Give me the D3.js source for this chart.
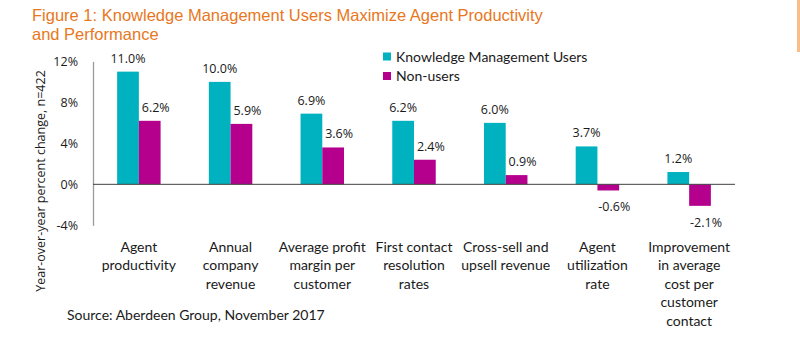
<!DOCTYPE html>
<html>
<head>
<meta charset="utf-8">
<script src="https://cdn.jsdelivr.net/npm/d3@7"></script>
<style>
  body { margin: 0; background: #fff; }
  svg { display: block; }
</style>
</head>
<body>
<svg id="chart"></svg>
<script>
// data
const categories = [
    ['Agent', 'productivity'],
    ['Annual', 'company', 'revenue'],
    ['Average profit', 'margin per', 'customer'],
    ['First contact', 'resolution', 'rates'],
    ['Cross-sell and', 'upsell revenue'],
    ['Agent', 'utilization', 'rate'],
    ['Improvement', 'in average', 'cost per', 'customer', 'contact']
];
const seriesNames = ['Knowledge Management Users', 'Non-users'];
const kmUsers = [11.0, 10.0, 6.9, 6.2, 6.0, 3.7, 1.2];
const nonUsers = [6.2, 5.9, 3.6, 2.4, 0.9, -0.6, -2.1];
const yTicks = [12, 8, 4, 0, -4];

const colours = { km: '#00b2bf', non: '#b4008c', title: '#e87722', text: '#1a1a1a' };

const width = 800, height = 354;
const svg = d3.select('#chart').attr('width', width).attr('height', height);

const rows = categories.map((c, i) => ({ idx: i, label: c, values: [kmUsers[i], nonUsers[i]] }));

const x0 = d3.scaleBand()
    .domain(d3.range(categories.length))
    .range([93, 735]);

const x1 = d3.scaleBand()
    .domain([0, 1])
    .range([0, x0.bandwidth()])
    .paddingOuter(1.11);

const y = d3.scaleLinear()
    .domain([-4, 12])
    .range([225.3, 61.4]);

// title
svg.append('text')
    .attr('x', 32).attr('y', 21)
    .attr('fill', colours.title)
    .style('font-family', 'Liberation Sans, Arial, sans-serif')
    .style('font-size', '16.5px')
    .selectAll('tspan')
    .data(['Figure 1: Knowledge Management Users Maximize Agent Productivity', 'and Performance'])
    .join('tspan')
    .attr('x', 32)
    .attr('dy', (d, i) => i === 0 ? 0 : 19)
    .text(d => d);

// orange strip at the right edge
svg.append('rect')
    .attr('x', 797).attr('y', 0)
    .attr('width', 3).attr('height', 52)
    .attr('fill', '#f8bd8a');

// y axis
const yAxis = d3.axisLeft(y).tickValues(yTicks).tickSize(0).tickPadding(15)
    .tickFormat(d => d + '%');
const yAxisG = svg.append('g')
    .attr('transform', 'translate(93,0)')
    .call(yAxis);
yAxisG.select('.domain').attr('stroke', '#9a9a9a').attr('stroke-width', 1.3);
yAxisG.selectAll('.tick text')
    .attr('fill', colours.text)
    .style('font-family', 'Open Sans, sans-serif')
    .style('font-size', '12.5px');

svg.append('text')
    .attr('transform', 'translate(45,181) rotate(-90)')
    .attr('text-anchor', 'middle')
    .attr('fill', colours.text)
    .style('font-family', 'Open Sans, sans-serif')
    .style('font-size', '12.5px')
    .text('Year-over-year percent change, n=422');

// bars
const groups = svg.append('g').selectAll('g')
    .data(rows)
    .join('g')
    .attr('transform', d => `translate(${x0(d.idx)},0)`);

groups.selectAll('rect')
    .data(d => d.values.map((v, k) => ({ k, v })))
    .join('rect')
    .attr('x', d => x1(d.k))
    .attr('width', x1.bandwidth())
    .attr('y', d => y(Math.max(0, d.v)))
    .attr('height', d => Math.abs(y(d.v) - y(0)))
    .attr('fill', d => d.k === 0 ? colours.km : colours.non);

groups.selectAll('.value-label')
    .data(d => d.values.map((v, k) => ({ k, v })))
    .join('text')
    .attr('class', 'value-label')
    .attr('x', d => x1(d.k) + x1.bandwidth() / 2 + (d.k === 1 ? 6 : 0))
    .attr('y', d => d.v >= 0 ? y(d.v) - 9 : y(d.v) + 21)
    .attr('text-anchor', 'middle')
    .attr('fill', colours.text)
    .style('font-family', 'Open Sans, sans-serif')
    .style('font-size', '12.5px')
    .text(d => d.v.toFixed(1) + '%');

// zero line
svg.append('line')
    .attr('x1', 93).attr('x2', 735)
    .attr('y1', y(0)).attr('y2', y(0))
    .attr('stroke', '#404040').attr('stroke-width', 1);

// category labels
groups.append('text')
    .attr('text-anchor', 'middle')
    .attr('fill', colours.text)
    .style('font-family', 'Lato, sans-serif')
    .style('font-size', '14px')
    .selectAll('tspan')
    .data(d => d.label)
    .join('tspan')
    .attr('x', x0.bandwidth() / 2)
    .attr('y', (d, i) => 251.5 + i * 18.5)
    .text(d => d);

// legend
const legend = svg.append('g').selectAll('g')
    .data(seriesNames)
    .join('g')
    .attr('transform', (d, i) => `translate(383,${52.5 + i * 19.5})`);
legend.append('rect')
    .attr('width', 8).attr('height', 8)
    .attr('fill', (d, i) => i === 0 ? colours.km : colours.non);
legend.append('text')
    .attr('x', 13).attr('y', 9)
    .attr('fill', colours.text)
    .style('font-family', 'Lato, sans-serif')
    .style('font-size', '14px')
    .text(d => d);

// source
svg.append('text')
    .attr('x', 67).attr('y', 320)
    .attr('fill', colours.text)
    .style('font-family', 'Lato, sans-serif')
    .style('font-size', '14px')
    .text('Source: Aberdeen Group, November 2017');
</script>
</body>
</html>
